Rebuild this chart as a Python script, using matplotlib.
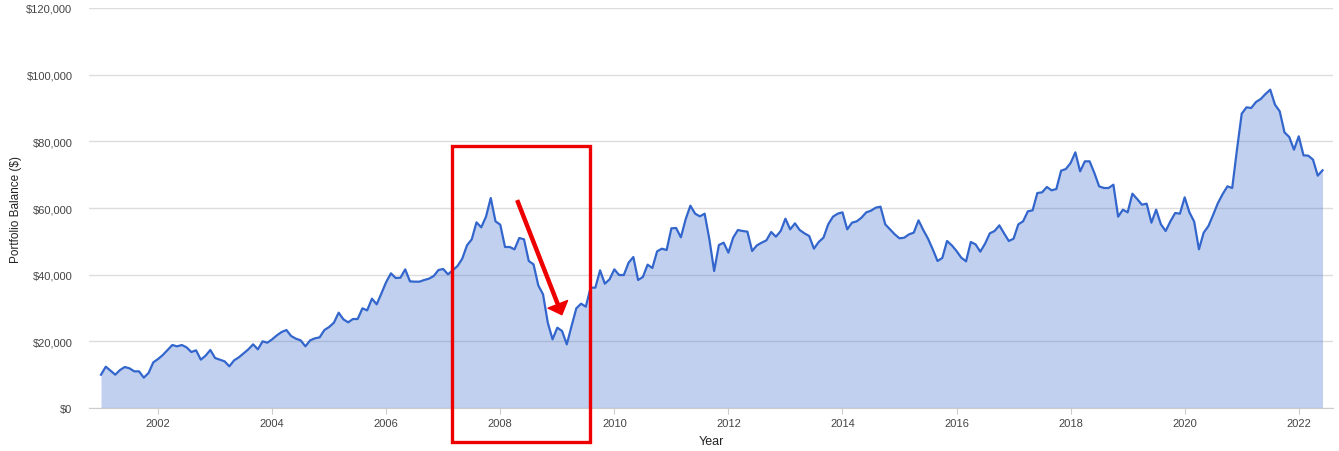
"""Portfolio balance area chart with a highlighted 2008 drawdown."""

import matplotlib

matplotlib.use("Agg")
import matplotlib.pyplot as plt
import numpy as np
from matplotlib.patches import Rectangle
from matplotlib.ticker import FuncFormatter

plt.rcParams["font.family"] = ["Liberation Sans", "DejaVu Sans"]

# monthly portfolio balance in $ thousands, Jan 2001 .. Jun 2022
balance_k = [
    10.0, 12.4, 11.2, 10.0, 11.4, 12.3, 11.9, 11.0, 11.0, 9.1, 10.5, 13.7,
    14.7, 15.9, 17.4, 18.9, 18.5, 18.9, 18.2, 16.8, 17.3, 14.5, 15.7, 17.4,
    15.0, 14.5, 14.0, 12.5, 14.3, 15.2, 16.4, 17.6, 19.1, 17.6, 20.0, 19.6,
    20.6, 21.8, 22.8, 23.4, 21.6, 20.8, 20.3, 18.5, 20.3, 20.9, 21.2, 23.4,
    24.3, 25.6, 28.6, 26.6, 25.7, 26.7, 26.7, 29.9, 29.3, 32.8, 31.1, 34.4,
    37.8, 40.4, 39.0, 39.1, 41.6, 38.0, 37.9, 37.9, 38.4, 38.8, 39.6, 41.4,
    41.7, 40.1, 41.3, 42.6, 44.8, 48.8, 50.6, 55.7, 54.2, 57.4, 63.0, 56.0,
    55.0, 48.3, 48.3, 47.6, 51.0, 50.6, 44.1, 43.1, 36.8, 34.1, 25.6, 20.6,
    24.1, 23.1, 19.1, 24.6, 29.9, 31.3, 30.4, 36.1, 36.1, 41.3, 37.3, 38.6,
    41.6, 39.9, 39.9, 43.6, 45.3, 38.4, 39.3, 43.0, 42.0, 47.0, 47.8, 47.4,
    53.9, 54.0, 51.2, 56.6, 60.7, 58.3, 57.5, 58.3, 50.6, 41.1, 48.9, 49.6,
    46.6, 51.1, 53.4, 53.1, 52.9, 47.1, 48.8, 49.6, 50.3, 52.8, 51.4, 53.1,
    56.8, 53.6, 55.4, 53.4, 52.4, 51.6, 47.8, 49.8, 51.1, 55.1, 57.4, 58.3,
    58.7, 53.6, 55.6, 56.0, 57.1, 58.7, 59.2, 60.1, 60.4, 55.1, 53.6, 52.1,
    50.9, 51.1, 52.1, 52.6, 56.3, 53.4, 50.8, 47.6, 44.1, 45.0, 50.1, 48.8,
    47.1, 45.1, 44.0, 49.8, 49.1, 46.9, 49.3, 52.4, 53.1, 54.8, 52.4, 50.1,
    50.8, 55.1, 56.0, 59.0, 59.3, 64.5, 64.7, 66.3, 65.3, 65.7, 71.2, 71.7,
    73.5, 76.7, 71.0, 74.0, 74.0, 70.5, 66.5, 66.0, 66.0, 67.0, 57.4, 59.5,
    58.7, 64.3, 62.7, 61.0, 61.3, 55.6, 59.5, 55.1, 53.1, 56.0, 58.5, 58.3,
    63.2, 58.7, 55.9, 47.6, 52.6, 54.6, 58.0, 61.5, 64.2, 66.5, 66.0, 77.5,
    88.3, 90.2, 90.0, 91.8, 92.7, 94.2, 95.5, 91.0, 89.0, 82.7, 81.3, 77.5,
    81.5, 75.8, 75.7, 74.5, 69.7, 71.3,
]
start_year = 2001
year_ticks = list(range(2002, 2023, 2))
balance_ticks = list(range(0, 120001, 20000))

# annotation box and arrow (year, $)
box_years = (2007.15, 2009.58)
box_values = (-10200, 78700)
arrow_tail = (2008.30, 62200)
arrow_tip = (2009.08, 28000)

balance = np.array(balance_k) * 1000
years = start_year + np.arange(len(balance)) / 12

fig = plt.figure(figsize=(13.39, 4.52), dpi=100)
ax = fig.add_axes([0.0665, 0.0951, 0.929, 0.885])

ax.fill_between(years, balance, 0, color="#3366cc", alpha=0.3, lw=0, zorder=2)
ax.plot(years, balance, color="#3366cc", lw=1.6, zorder=3)

ax.set_xlim(2000.79, 2022.6)
ax.set_ylim(0, 120000)
ax.set_xticks(year_ticks)
ax.set_yticks(balance_ticks)
ax.yaxis.set_major_formatter(FuncFormatter(lambda v, _: f"${v:,.0f}"))
ax.grid(axis="y", color="#dddddd", lw=1, zorder=1)
ax.set_axisbelow(True)
for side in ("top", "right", "left"):
    ax.spines[side].set_visible(False)
ax.spines["bottom"].set_color("#cccccc")
ax.tick_params(axis="y", length=0, pad=12, labelsize=8, labelcolor="#444444")
ax.tick_params(axis="x", length=4, color="#cccccc", pad=3, labelsize=8, labelcolor="#444444")
ax.set_xlabel("Year", fontsize=9, color="#222222", labelpad=5)
ax.set_ylabel("Portfolio Balance ($)", fontsize=8.5, color="#222222", labelpad=3)

ax.add_patch(Rectangle((box_years[0], box_values[0]), box_years[1] - box_years[0],
                       box_values[1] - box_values[0], fill=False, ec="#ee0000",
                       lw=2.4, clip_on=False, zorder=5))
ax.annotate("", xy=arrow_tip, xytext=arrow_tail, zorder=6,
            arrowprops=dict(facecolor="#ee0000", edgecolor="#ee0000", width=2.2,
                            headwidth=15, headlength=8, shrink=0))

fig.savefig("out.png", dpi=100)
plt.close(fig)
